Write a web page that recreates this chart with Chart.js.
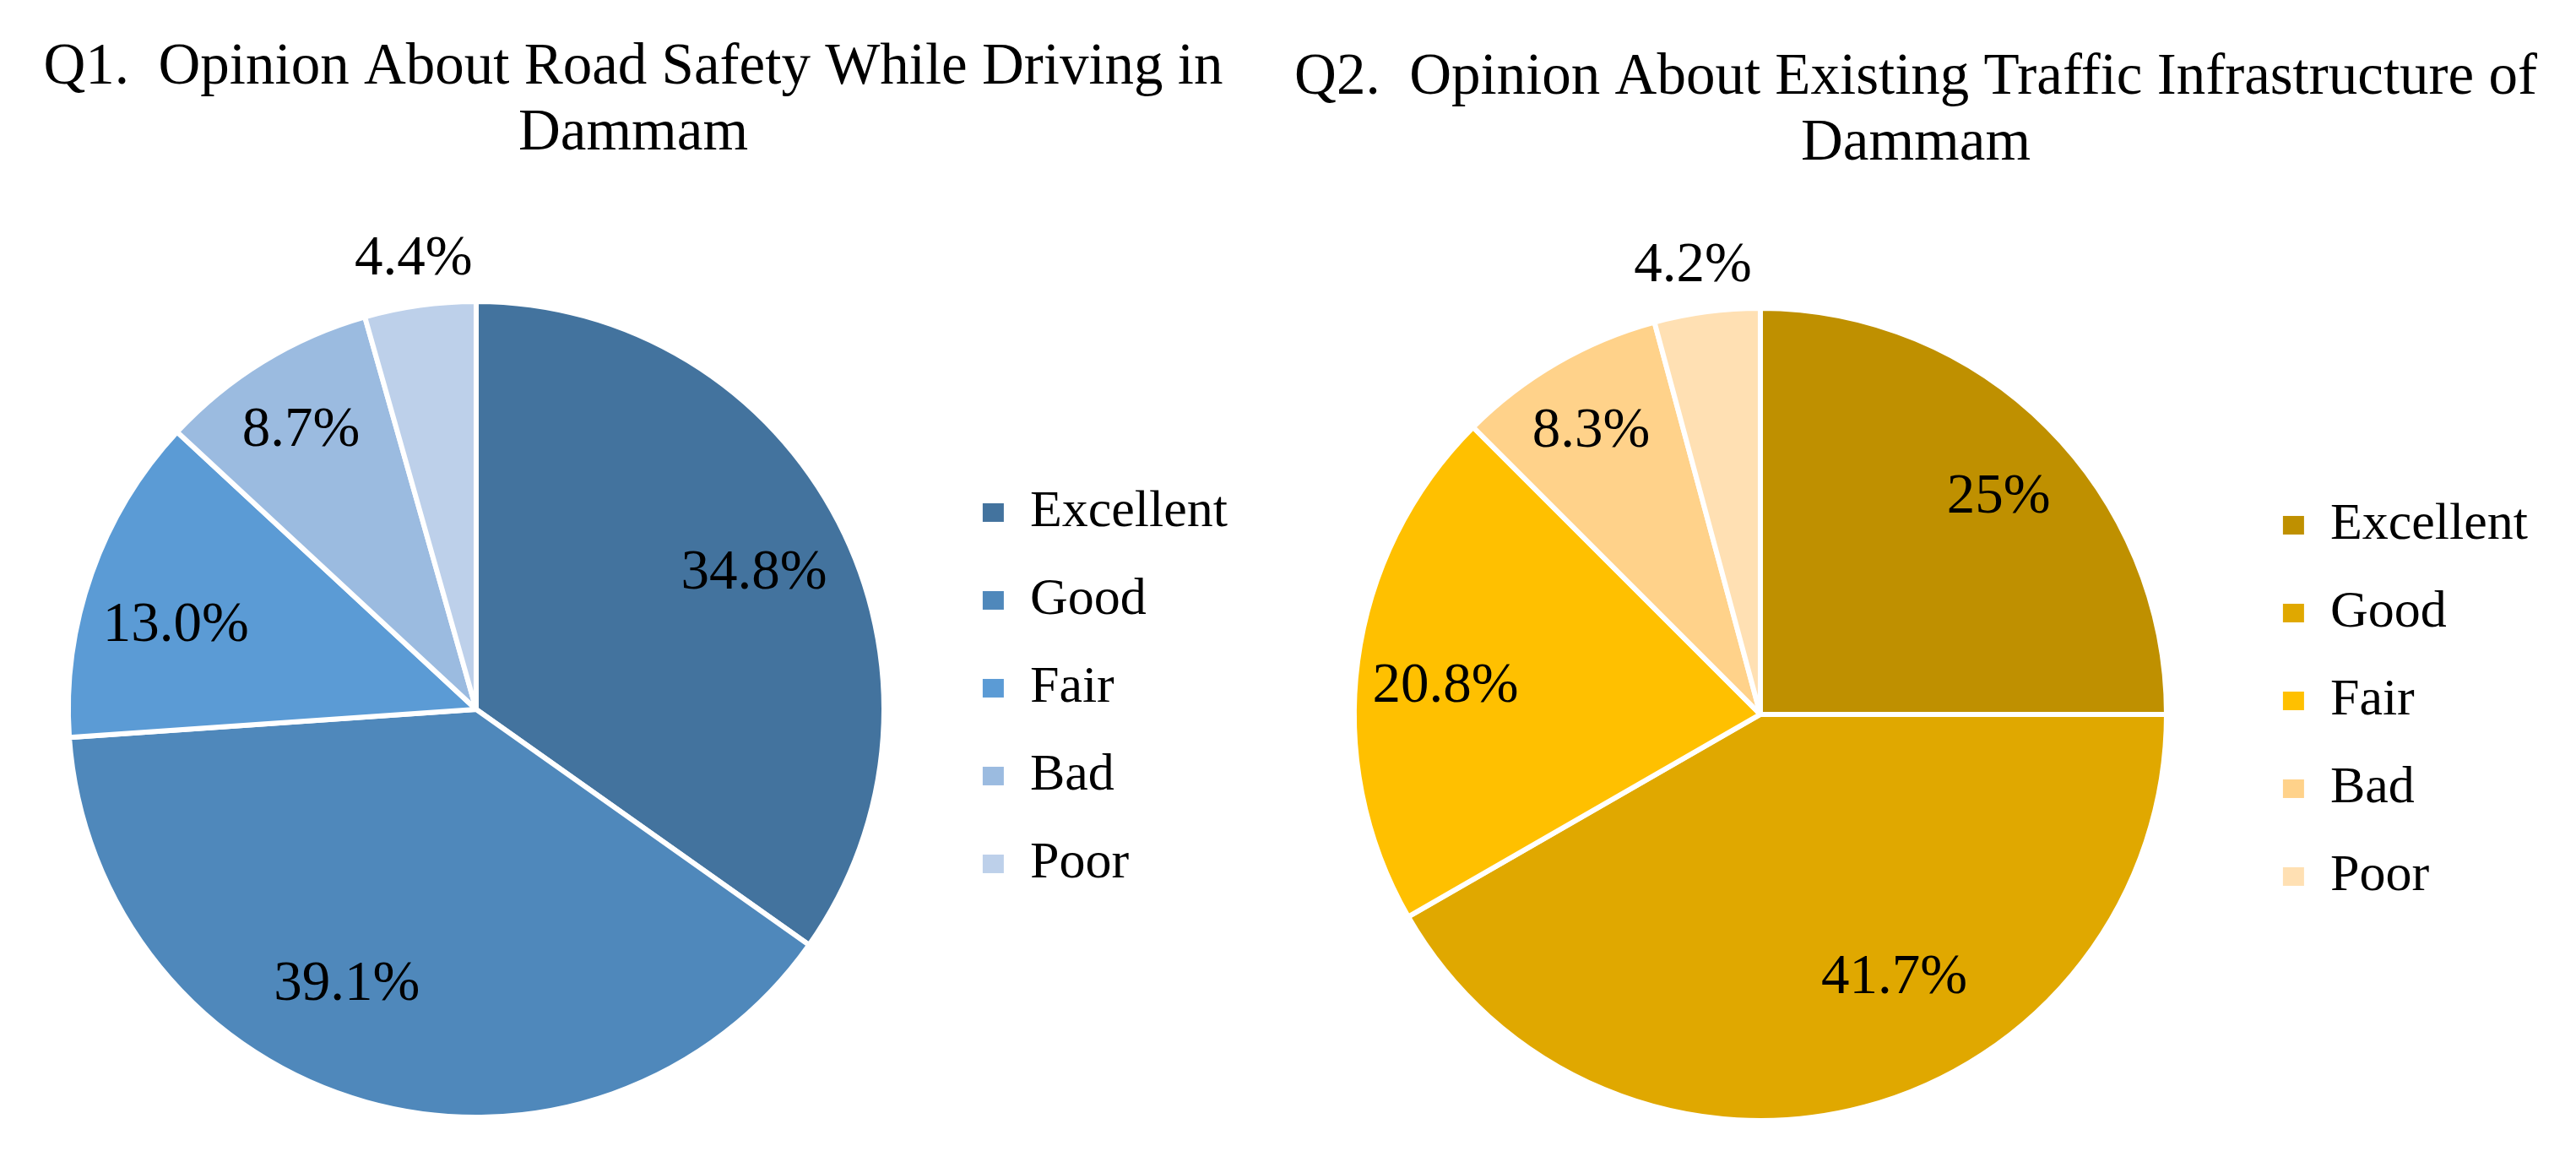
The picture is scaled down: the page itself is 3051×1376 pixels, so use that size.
<!DOCTYPE html>
<html>
<head>
<meta charset="utf-8">
<script src="https://cdn.jsdelivr.net/npm/chart.js@4.4.1/dist/chart.umd.min.js"></script>
<style>
    body { margin: 0; background: #fff; }
    .holder { position: absolute; top: 0; height: 1376px; }
    canvas { display: block; }
</style>
</head>
<body>
<div class="holder" style="left:0px"><canvas id="roadSafety" width="1464" height="1376"></canvas></div>
<div class="holder" style="left:1500px"><canvas id="infrastructure" width="1551" height="1376"></canvas></div>

<script>
// данные
const categories = ["Excellent", "Good", "Fair", "Bad", "Poor"];
const roadSafetyValues = [34.8, 39.1, 13.0, 8.7, 4.4];
const infrastructureValues = [25, 41.7, 20.8, 8.3, 4.2];

const roadSafetyTitle = ["Q1.  Opinion About Road Safety While Driving in", "Dammam"];
const infrastructureTitle = ["Q2.  Opinion About Existing Traffic Infrastructure of", "Dammam"];

const blues = ["#43739E", "#4F88BB", "#5B9BD5", "#9BBBE0", "#BDD0EA"];
const golds = ["#BF9000", "#E0A800", "#FFC000", "#FFD28A", "#FFE0B3"];

const FONT = "'Liberation Serif', 'Times New Roman', serif";

// подписи процентов на секторах (сдвиг угла в градусах, доля радиуса)
const pieLabels = (format, place) => ({
    id: "pieLabels",
    afterDatasetsDraw(chart) {
        const ctx = chart.ctx;
        const meta = chart.getDatasetMeta(0);
        const values = chart.data.datasets[0].data;
        ctx.save();
        ctx.font = "67px " + FONT;
        ctx.fillStyle = "#000";
        ctx.textAlign = "center";
        ctx.textBaseline = "middle";
        meta.data.forEach((arc, i) => {
            const p = arc.getProps(["x", "y", "startAngle", "endAngle", "outerRadius"], true);
            const a = (p.startAngle + p.endAngle) / 2 + place[i][0] * Math.PI / 180;
            const r = p.outerRadius * place[i][1];
            ctx.fillText(format(values[i]), p.x + r * Math.cos(a), p.y + r * Math.sin(a));
        });
        ctx.restore();
    }
});

// небольшой сдвиг заголовка и легенды после раскладки
const nudge = (titleDx, legendDy) => ({
    id: "nudge",
    afterLayout(chart) {
        chart.titleBlock.left += titleDx;
        chart.titleBlock.right += titleDx;
        chart.legend.top += legendDy;
        chart.legend.bottom += legendDy;
    }
});

const makePie = (id, title, values, colors, opts) => {
    const ctx = document.getElementById(id).getContext("2d");
    return new Chart(ctx, {
        type: "pie",
        data: {
            labels: categories,
            datasets: [{
                data: values,
                backgroundColor: colors,
                borderColor: "#fff",
                borderWidth: 6,
                hoverOffset: 0
            }]
        },
        options: {
            responsive: false,
            animation: false,
            devicePixelRatio: 1,
            layout: { padding: opts.padding },
            plugins: {
                title: {
                    display: true,
                    text: title,
                    color: "#000",
                    font: { family: FONT, size: 69, weight: "normal", lineHeight: 1.14 },
                    padding: opts.titlePadding
                },
                legend: {
                    position: "right",
                    fullSize: false,
                    labels: {
                        color: "#000",
                        font: { family: FONT, size: 62 },
                        boxWidth: 25,
                        boxHeight: 22,
                        padding: 42,
                        generateLabels: (chart) =>
                            Chart.overrides.pie.plugins.legend.labels.generateLabels(chart)
                                .map(l => ({ ...l, lineWidth: 0 }))
                    }
                },
                tooltip: { enabled: false }
            }
        },
        plugins: [pieLabels(opts.format, opts.place), nudge(opts.titleDx, opts.legendDy)]
    });
};

makePie("roadSafety", roadSafetyTitle, roadSafetyValues, blues, {
    padding: { left: 6, right: 0, top: 0, bottom: 50 },
    titlePadding: { top: 41.3, bottom: 155.3 },
    format: v => v.toFixed(1) + "%",
    place: [[1.4, 0.758], [9.5, 0.746], [-4, 0.764], [-0.7, 0.806], [0, 1.114]],
    titleDx: 15,
    legendDy: -25
});

makePie("infrastructure", infrastructureTitle, infrastructureValues, golds, {
    padding: { left: 8, right: 47, top: 0, bottom: 46 },
    titlePadding: { top: 53.3, bottom: 151.3 },
    format: v => v + "%",
    place: [[2.7, 0.793], [-12, 0.728], [-2.6, 0.778], [-0.9, 0.81], [-1, 1.116]],
    titleDx: 13,
    legendDy: -16
});
</script>
</body>
</html>
